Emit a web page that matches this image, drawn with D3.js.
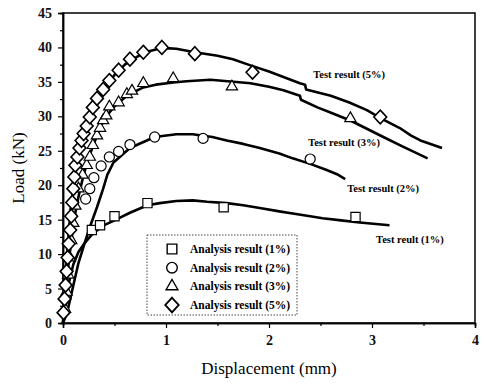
<!DOCTYPE html>
<html>
<head>
<meta charset="utf-8">
<script src="https://cdn.jsdelivr.net/npm/d3@7"></script>
<style>
  body { margin: 0; background: #fff; }
  text { font-family: "Liberation Serif", "DejaVu Serif", serif; }
</style>
</head>
<body>
<script>
// test curves (displacement mm, load kN)
var test1 = [[0,0],[0.03,3],[0.06,6],[0.1,8.5],[0.15,10.3],[0.21,11.6],[0.29,13.0],[0.4,14.2],[0.5,14.9],[0.65,16.0],[0.82,17.1],[0.94,17.4],[1.1,17.7],[1.26,17.8],[1.4,17.6],[1.59,17.4],[1.75,17.1],[1.91,16.7],[2.1,16.2],[2.23,15.9],[2.4,15.5],[2.52,15.2],[2.7,14.9],[2.88,14.6],[3.17,14.2]];
var test2 = [[0,0],[0.04,1.5],[0.09,4.8],[0.15,8.7],[0.21,11.6],[0.26,13.9],[0.33,16.8],[0.39,19.5],[0.43,21.5],[0.49,23.3],[0.65,25.4],[0.89,27.0],[1.1,27.4],[1.26,27.4],[1.45,27.0],[1.59,26.5],[1.75,26.0],[1.91,25.4],[2.1,24.6],[2.23,23.9],[2.4,23.1],[2.56,22.2],[2.66,21.6],[2.74,20.9]];
var test3 = [[0,0],[0.02,3],[0.04,6.5],[0.06,9.5],[0.09,13],[0.12,16],[0.16,19],[0.2,21.5],[0.25,24],[0.3,26],[0.36,28.4],[0.42,30],[0.49,31.3],[0.62,33.0],[0.78,34.2],[0.9,34.6],[1.07,34.9],[1.2,35.1],[1.43,35.3],[1.6,35.1],[1.82,34.8],[2.0,34.3],[2.14,33.8],[2.3,33.0],[2.31,32.4],[2.47,31.3],[2.59,30.6],[2.79,29.4],[2.95,28.2],[3.11,27.0],[3.3,25.6],[3.54,23.9]];
var test5 = [[0,0],[0.01,3],[0.02,6],[0.04,10],[0.06,14],[0.09,18],[0.12,22],[0.16,25.5],[0.2,28],[0.3,31.5],[0.4,34],[0.5,36],[0.6,37.5],[0.7,38.5],[0.8,39.3],[0.9,39.7],[1.0,39.9],[1.1,39.8],[1.28,39.3],[1.5,38.8],[1.65,38.3],[1.82,37.4],[2.0,36.5],[2.14,35.7],[2.3,34.8],[2.35,34.6],[2.36,33.9],[2.6,33.0],[2.78,32.0],[2.95,30.9],[3.1,29.6],[3.27,28.3],[3.38,27.2],[3.47,26.5],[3.68,25.4]];

// analysis results (markers)
var anal1 = [[0.28,13.5],[0.36,14.2],[0.5,15.5],[0.82,17.4],[1.56,16.8],[2.84,15.4]];
var anal2 = [[0.22,18],[0.26,19.5],[0.3,21.1],[0.37,22.8],[0.45,24.1],[0.54,24.9],[0.65,25.9],[0.89,27.0],[1.36,26.8],[2.4,23.8]];
var anal3 = [[0.02,2],[0.035,4.5],[0.05,7],[0.065,9.5],[0.08,12],[0.1,14.5],[0.12,17],[0.15,19.5],[0.19,21.5],[0.23,22.9],[0.26,24.1],[0.29,25.8],[0.33,27.2],[0.36,28.3],[0.39,29.4],[0.42,30.1],[0.45,31.4],[0.54,32.0],[0.62,33.2],[0.67,33.7],[0.78,34.8],[1.07,35.5],[1.64,34.3],[2.79,29.7]];
var anal5 = [[0.005,1.5],[0.015,3.5],[0.025,5.5],[0.035,7.5],[0.045,9.5],[0.055,11.5],[0.07,13.5],[0.08,15.5],[0.09,17.5],[0.1,19.5],[0.11,21.2],[0.12,22.9],[0.14,24.1],[0.16,25.4],[0.18,26.5],[0.2,27.5],[0.23,28.6],[0.26,29.9],[0.29,31.3],[0.33,32.6],[0.39,33.9],[0.45,35.2],[0.54,36.7],[0.65,38.3],[0.78,39.3],[0.96,40.0],[1.28,39.1],[1.84,36.4],[3.08,29.9]];

var curveLabels = ['Test result (5%)','Test result (3%)','Test result (2%)','Test reult (1%)'];
var labelPos = [[2.43,35.5],[2.38,25.7],[2.76,19.0],[3.04,11.6]]; // data coords of label start
var legendLabels = ['Analysis result (1%)','Analysis result (2%)','Analysis result (3%)','Analysis result (5%)'];
var xTicks = [0,1,2,3,4];
var yTicks = [0,5,10,15,20,25,30,35,40,45];

var W = 484, H = 384;
var mLeft = 63, mRight = 475, mTop = 13, mBottom = 323;

var svg = d3.select('body').append('svg').attr('width', W).attr('height', H);

var x = d3.scaleLinear().domain([0,4]).range([mLeft, mRight]);
var y = d3.scaleLinear().domain([0,45]).range([mBottom, mTop]);

// frame
svg.append('rect')
    .attr('x', mLeft).attr('y', mTop)
    .attr('width', mRight-mLeft).attr('height', mBottom-mTop)
    .attr('fill','none').attr('stroke','#000').attr('stroke-width',1.5);

// axes
svg.append('g').attr('transform','translate(0,'+mBottom+')')
    .call(d3.axisBottom(x).tickValues(xTicks).tickFormat(d3.format('d')).tickSize(5).tickPadding(7));
svg.append('g').attr('transform','translate(0,'+mBottom+')')
    .call(d3.axisBottom(x).tickValues([0.5,1.5,2.5,3.5]).tickFormat('').tickSize(3));
svg.append('g').attr('transform','translate('+mLeft+',0)')
    .call(d3.axisLeft(y).tickValues(yTicks).tickFormat(d3.format('d')).tickSize(5).tickPadding(6));
svg.append('g').attr('transform','translate('+mLeft+',0)')
    .call(d3.axisLeft(y).tickValues(d3.range(2.5,45,5)).tickFormat('').tickSize(3));

svg.selectAll('.domain').attr('stroke-width',1.5);
svg.selectAll('.tick line').attr('stroke-width',1.2);
svg.selectAll('.tick text')
    .style('font-family','"Liberation Serif", serif')
    .style('font-size','14px').style('font-weight','bold').attr('fill','#111');

// axis titles
svg.append('text').attr('x', (mLeft+mRight)/2).attr('y', 374)
    .attr('text-anchor','middle').style('font-size','17px').text('Displacement (mm)');
svg.append('text').attr('transform','translate(24,'+((mTop+mBottom)/2)+') rotate(-90)')
    .attr('text-anchor','middle').style('font-size','17px').text('Load (kN)');

// test curves
var line = d3.line().x(d=>x(d[0])).y(d=>y(d[1]));
[test1, test2, test3, test5].forEach(function(s){
    svg.append('path').attr('d', line(s))
        .attr('fill','none').attr('stroke','#000')
        .attr('stroke-width',2.6).attr('stroke-linejoin','round');
});

// markers
var sym = [d3.symbolSquare, d3.symbolCircle, d3.symbolTriangle, d3.symbolDiamond];
var sizes = [85, 80, 55, 55];
var stretch = ['', '', '', ' scale(1.6,1)'];
[anal1, anal2, anal3, anal5].forEach(function(s, i){
    svg.append('g').selectAll('path').data(s).join('path')
        .attr('transform', d=>'translate('+x(d[0])+','+y(d[1])+')' + stretch[i])
        .attr('d', d3.symbol().type(sym[i]).size(sizes[i]))
        .attr('fill','#fff').attr('stroke','#000').attr('stroke-width',1.2);
});

// curve labels
curveLabels.forEach(function(t, i){
    svg.append('text').attr('x', x(labelPos[i][0])).attr('y', y(labelPos[i][1]))
        .style('font-size','10.5px').style('font-weight','bold').text(t);
});

// legend
var lg = svg.append('g');
lg.append('rect').attr('x',147).attr('y',235).attr('width',150).attr('height',80)
    .attr('fill','#fff').attr('stroke','#444').attr('stroke-width',1).attr('stroke-dasharray','1.5,1.5');
var rowY = d3.scalePoint().domain(d3.range(4)).range([249,305]);
legendLabels.forEach(function(t, i){
    lg.append('path')
        .attr('transform','translate(172,'+rowY(i)+')' + stretch[i])
        .attr('d', d3.symbol().type(sym[i]).size(sizes[i]*1.1))
        .attr('fill','#fff').attr('stroke','#000').attr('stroke-width',1.4);
    lg.append('text').attr('x',190).attr('y',rowY(i)+4)
        .style('font-size','11.5px').style('font-weight','bold').text(t);
});
</script>
</body>
</html>
